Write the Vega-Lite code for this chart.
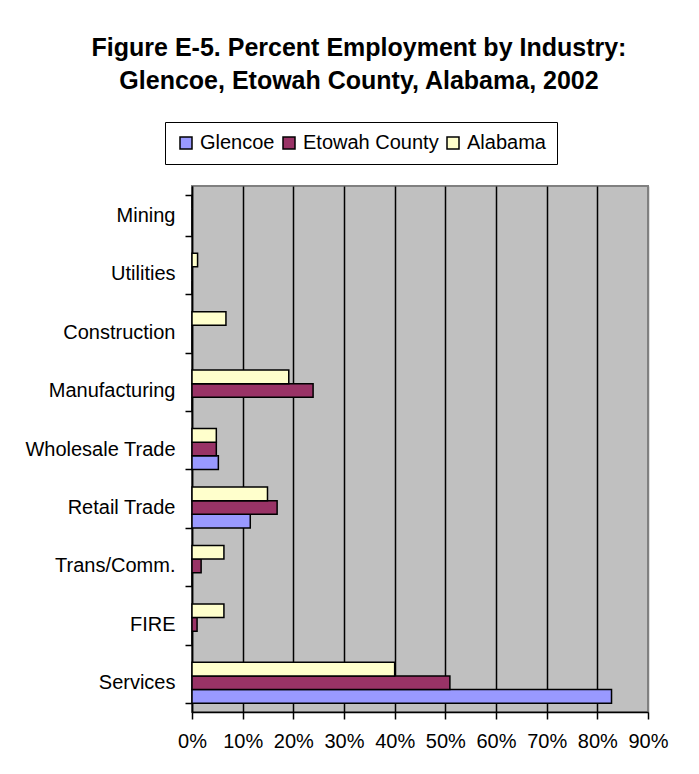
{
  "$schema": "https://vega.github.io/schema/vega-lite/v6.json",
  "autosize": "none",
  "width": 456,
  "height": 526,
  "padding": {"left": 192, "top": 186, "right": 51, "bottom": 62},
  "background": "white",
  "title": {
    "text": ["Figure E-5. Percent Employment by Industry:", "Glencoe, Etowah County, Alabama, 2002"],
    "font": "Liberation Sans",
    "fontSize": 25,
    "fontWeight": "bold",
    "color": "black",
    "anchor": "middle",
    "dx": -61,
    "lineHeight": 33,
    "offset": 28
  },
  "data": {
    "values": [
      {"industry": "Mining", "area": "Glencoe", "pct": 0},
      {"industry": "Mining", "area": "Etowah County", "pct": 0},
      {"industry": "Mining", "area": "Alabama", "pct": 0},
      {"industry": "Utilities", "area": "Glencoe", "pct": 0},
      {"industry": "Utilities", "area": "Etowah County", "pct": 0},
      {"industry": "Utilities", "area": "Alabama", "pct": 1.1},
      {"industry": "Construction", "area": "Glencoe", "pct": 0},
      {"industry": "Construction", "area": "Etowah County", "pct": 0},
      {"industry": "Construction", "area": "Alabama", "pct": 6.7},
      {"industry": "Manufacturing", "area": "Glencoe", "pct": 0},
      {"industry": "Manufacturing", "area": "Etowah County", "pct": 23.9},
      {"industry": "Manufacturing", "area": "Alabama", "pct": 19.1},
      {"industry": "Wholesale Trade", "area": "Glencoe", "pct": 5.2},
      {"industry": "Wholesale Trade", "area": "Etowah County", "pct": 4.8},
      {"industry": "Wholesale Trade", "area": "Alabama", "pct": 4.8},
      {"industry": "Retail Trade", "area": "Glencoe", "pct": 11.5},
      {"industry": "Retail Trade", "area": "Etowah County", "pct": 16.8},
      {"industry": "Retail Trade", "area": "Alabama", "pct": 14.9},
      {"industry": "Trans/Comm.", "area": "Glencoe", "pct": 0},
      {"industry": "Trans/Comm.", "area": "Etowah County", "pct": 1.8},
      {"industry": "Trans/Comm.", "area": "Alabama", "pct": 6.3},
      {"industry": "FIRE", "area": "Glencoe", "pct": 0},
      {"industry": "FIRE", "area": "Etowah County", "pct": 1.0},
      {"industry": "FIRE", "area": "Alabama", "pct": 6.3},
      {"industry": "Services", "area": "Glencoe", "pct": 82.8},
      {"industry": "Services", "area": "Etowah County", "pct": 50.9},
      {"industry": "Services", "area": "Alabama", "pct": 40.0}
    ]
  },
  "mark": {"type": "bar", "stroke": "black", "strokeWidth": 1.5},
  "encoding": {
    "y": {
      "field": "industry",
      "type": "nominal",
      "sort": ["Mining", "Utilities", "Construction", "Manufacturing", "Wholesale Trade", "Retail Trade", "Trans/Comm.", "FIRE", "Services"],
      "scale": {"paddingInner": 0.3, "paddingOuter": 0.15},
      "axis": {
        "title": null,
        "labelFont": "Liberation Sans",
        "labelFontSize": 20,
        "labelColor": "black",
        "labelPadding": 10,
        "tickBand": "extent",
        "tickSize": 7,
        "tickColor": "black",
        "tickWidth": 1.5,
        "domainColor": "black",
        "domainWidth": 1.5,
        "grid": false
      }
    },
    "yOffset": {
      "field": "area",
      "type": "nominal",
      "scale": {"domain": ["Alabama", "Etowah County", "Glencoe"]}
    },
    "x": {
      "field": "pct",
      "type": "quantitative",
      "scale": {"domain": [0, 90], "nice": false},
      "axis": {
        "title": null,
        "values": [0, 10, 20, 30, 40, 50, 60, 70, 80, 90],
        "labelExpr": "datum.value + '%'",
        "labelFont": "Liberation Sans",
        "labelFontSize": 20,
        "labelColor": "black",
        "labelPadding": 12,
        "labelFlush": false,
        "labelOverlap": false,
        "tickSize": 7,
        "tickColor": "black",
        "tickWidth": 1.5,
        "domainColor": "black",
        "domainWidth": 1.5,
        "grid": true,
        "gridColor": {"condition": {"test": "datum.value == 90", "value": "#808080"}, "value": "black"},
        "gridWidth": 1.5,
        "gridOpacity": 1
      }
    },
    "color": {
      "field": "area",
      "type": "nominal",
      "scale": {"domain": ["Glencoe", "Etowah County", "Alabama"], "range": ["#9999FF", "#993366", "#FFFFCC"]},
      "legend": {
        "title": null,
        "orient": "none",
        "legendX": -27,
        "legendY": -64,
        "direction": "horizontal",
        "strokeColor": "black",
        "fillColor": "white",
        "padding": 11,
        "symbolType": "square",
        "symbolSize": 144,
        "symbolStrokeColor": "black",
        "symbolStrokeWidth": 1.5,
        "symbolOpacity": 1,
        "labelFont": "Liberation Sans",
        "labelFontSize": 20,
        "labelColor": "black",
        "labelOffset": 4,
        "columnPadding": 4
      }
    }
  },
  "config": {
    "view": {"fill": "#C0C0C0", "stroke": "#808080", "strokeWidth": 2}
  }
}
